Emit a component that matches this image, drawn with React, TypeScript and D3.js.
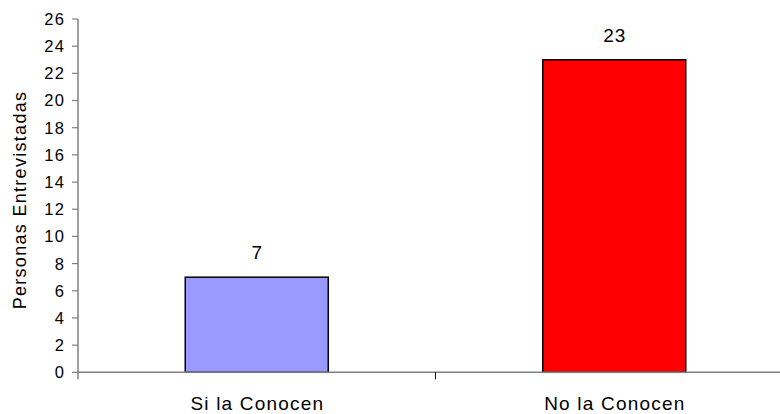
import React from "react";
import * as d3 from "d3";

// Survey results: number of interviewees who know / don't know it
const categories: string[] = ["Si la Conocen", "No la Conocen"];
const values: number[] = [7, 23];
const barColors: string[] = ["#9999FF", "#FF0000"];
const yTicks: number[] = [0, 2, 4, 6, 8, 10, 12, 14, 16, 18, 20, 22, 24, 26];
const yTitle = "Personas Entrevistadas";

const W = 780;
const H = 414;
const FONT = "'Liberation Sans', Arial, sans-serif";

export default function App() {
  const plotLeft = 78;
  const plotRight = 793;
  const plotTop = 19;
  const plotBottom = 372.3;

  const x = d3.scaleBand<string>().domain(categories).range([plotLeft, plotRight]).padding(0);
  const y = d3.scaleLinear().domain([0, 26]).range([plotBottom, plotTop]);
  const barW = x.bandwidth() * 0.4;
  const axisColor = "#808080";

  // category separators on the x axis
  const sepXs = categories.slice(1).map((c) => x(c) as number);

  return (
    <svg
      width={W}
      height={H}
      style={{ position: "absolute", left: 0, top: 0, background: "#fff" }}
      fontFamily={FONT}
    >
      {/* bars */}
      {categories.map((c, i) => {
        const cx = (x(c) as number) + x.bandwidth() / 2;
        return (
          <g key={c}>
            <rect
              x={cx - barW / 2}
              y={y(values[i])}
              width={barW}
              height={y(0) - y(values[i])}
              fill={barColors[i]}
              stroke="#000"
              strokeWidth={1.5}
            />
            <text
              x={cx + 0.5}
              y={y(values[i]) - 18}
              textAnchor="middle"
              fontSize={19}
              letterSpacing={1}
              fill="#000"
            >
              {values[i]}
            </text>
            <text
              x={cx + 0.6}
              y={410}
              textAnchor="middle"
              fontSize={19}
              letterSpacing={1.2}
              fill="#000"
            >
              {c}
            </text>
          </g>
        );
      })}

      {/* y axis */}
      <line x1={plotLeft} x2={plotLeft} y1={y(26)} y2={plotBottom + 7} stroke={axisColor} strokeWidth={1.5} />
      {yTicks.map((t) => (
        <g key={t}>
          <line x1={plotLeft - 6} x2={plotLeft} y1={y(t)} y2={y(t)} stroke={axisColor} strokeWidth={1.2} />
          <text
            x={65.5}
            y={y(t)}
            dy="0.36em"
            textAnchor="end"
            fontSize={16.5}
            letterSpacing={1.5}
            fill="#000"
          >
            {t}
          </text>
        </g>
      ))}

      {/* x axis */}
      <line x1={plotLeft} x2={W} y1={plotBottom} y2={plotBottom} stroke={axisColor} strokeWidth={1.5} />
      {sepXs.map((sx, i) => (
        <line key={i} x1={sx} x2={sx} y1={plotBottom} y2={plotBottom + 7} stroke="#000" strokeWidth={1} />
      ))}

      {/* y axis title */}
      <text
        transform={`translate(26,200) rotate(-90)`}
        textAnchor="middle"
        fontSize={18}
        letterSpacing={1.3}
        fill="#000"
      >
        {yTitle}
      </text>
    </svg>
  );
}
